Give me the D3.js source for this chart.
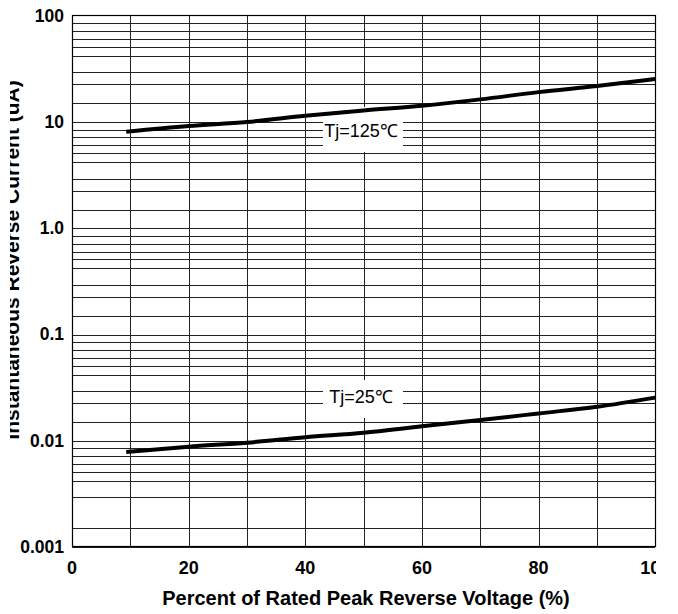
<!DOCTYPE html>
<html>
<head>
<meta charset="utf-8">
<script src="https://cdn.jsdelivr.net/npm/d3@7"></script>
<style>
  body { margin: 0; background: #fff; }
  text { font-family: "Liberation Sans", Arial, sans-serif; }
</style>
</head>
<body>
<div id="chart"></div>
<script>
// values
var voltage = [9.3, 20, 30, 40, 50, 60, 70, 80, 90, 100];
var current125 = [8.14, 9.21, 10.04, 11.5, 12.9, 14.3, 16.4, 19.2, 21.9, 25.5];
var current25 = [0.00785, 0.0088, 0.0096, 0.0108, 0.0119, 0.0137, 0.0157, 0.0181, 0.0209, 0.0255];
var curveLabels = ["Tj=125\u2103", "Tj=25\u2103"];

var xTicks = [0, 20, 40, 60, 80, 100];
var xGrid = [0, 10, 20, 30, 40, 50, 60, 70, 80, 90, 100];
var yTicks = [100, 10, 1, 0.1, 0.01, 0.001];
var yTickLabels = ["100", "10", "1.0", "0.1", "0.01", "0.001"];
var decades = [10, 1, 0.1, 0.01, 0.001];
var gridSteps = [8.5, 7.2, 6.05, 5.1, 4.2, 2.95, 2.27, 1.5];
var missingGrid = [0.00227];

var W = 678, H = 614;
var plotL = 72, plotR = 655.3, plotT = 16, plotB = 547;

var svg = d3.select("#chart")
  .append("svg")
    .attr("width", W)
    .attr("height", H);

var x = d3.scaleLinear()
  .domain([0, 100])
  .range([plotL, plotR]);

var y = d3.scaleLog()
  .domain([0.001, 100])
  .range([plotB, plotT]);

// minor grid values (odd spacing copied from the chart)
var gridValues = [];
decades.forEach(function(d) {
  gridValues.push(d);
  gridSteps.forEach(function(s) {
    var v = +(d * s).toPrecision(4);
    if (missingGrid.indexOf(v) < 0) gridValues.push(v);
  });
});

var grid = svg.append("g")
  .attr("stroke", "#222")
  .attr("stroke-width", 1)
  .attr("shape-rendering", "crispEdges");

grid.selectAll(".hg")
  .data(gridValues)
  .enter().append("line")
    .attr("x1", plotL)
    .attr("x2", plotR)
    .attr("y1", function(d) { return Math.round(y(d)) + 0.5 })
    .attr("y2", function(d) { return Math.round(y(d)) + 0.5 });

grid.selectAll(".vg")
  .data(xGrid)
  .enter().append("line")
    .attr("x1", function(d) { return Math.round(x(d)) + 0.5 })
    .attr("x2", function(d) { return Math.round(x(d)) + 0.5 })
    .attr("y1", plotT)
    .attr("y2", plotB);

svg.append("rect")
  .attr("x", plotL + 0.5)
  .attr("y", plotT - 0.5)
  .attr("width", Math.round(plotR - plotL))
  .attr("height", Math.round(plotB - plotT))
  .attr("fill", "none")
  .attr("stroke", "#000")
  .attr("stroke-width", 1.2);

// curve labels on white boxes
var boxes = [
  {label: curveLabels[0], cx: 363, y0: 107, y1: 152, base: 137},
  {label: curveLabels[1], cx: 363, y0: 380, y1: 418, base: 403}
];
boxes.forEach(function(b) {
  svg.append("rect")
    .attr("x", b.cx - 40)
    .attr("y", b.y0)
    .attr("width", 80)
    .attr("height", b.y1 - b.y0)
    .attr("fill", "#fff");
  svg.append("text")
    .attr("x", b.cx - 2)
    .attr("y", b.base)
    .attr("text-anchor", "middle")
    .attr("font-size", "18px")
    .attr("fill", "#000")
    .text(b.label);
});

var line = d3.line()
  .x(function(d) { return x(d[0]) })
  .y(function(d) { return y(d[1]) })
  .curve(d3.curveMonotoneX);

[current125, current25].forEach(function(series) {
  svg.append("path")
    .datum(d3.zip(voltage, series))
    .attr("fill", "none")
    .attr("stroke", "#000")
    .attr("stroke-width", 4)
    .attr("d", line);
});

// axes labels
svg.append("clipPath")
  .attr("id", "xclip")
  .append("rect")
    .attr("x", 0).attr("y", 0)
    .attr("width", 656).attr("height", H);

// the y title is trimmed on its left side in the source
svg.append("clipPath")
  .attr("id", "yclip")
  .append("rect")
    .attr("x", 10).attr("y", 0)
    .attr("width", 40).attr("height", H);

svg.append("g")
  .attr("clip-path", "url(#xclip)")
  .selectAll("text")
  .data(xTicks)
  .enter().append("text")
    .attr("x", function(d) { return x(d) })
    .attr("y", 574)
    .attr("text-anchor", "middle")
    .attr("font-size", "18px")
    .attr("font-weight", "bold")
    .text(function(d) { return d });

svg.append("g")
  .selectAll("text")
  .data(yTicks)
  .enter().append("text")
    .attr("x", 64)
    .attr("y", function(d) { return y(d) })
    .attr("dy", "0.33em")
    .attr("text-anchor", "end")
    .attr("font-size", "17.5px")
    .attr("font-weight", "bold")
    .text(function(d, i) { return yTickLabels[i] });

svg.append("text")
  .attr("x", 366)
  .attr("y", 605)
  .attr("text-anchor", "middle")
  .attr("font-size", "20px")
  .attr("font-weight", "bold")
  .text("Percent of Rated Peak Reverse Voltage (%)");

svg.append("g")
  .attr("clip-path", "url(#yclip)")
  .append("text")
    .attr("transform", "translate(19,260) rotate(-90)")
    .attr("text-anchor", "middle")
    .attr("font-size", "21px")
    .attr("font-weight", "bold")
    .text("Instantaneous Reverse Current (uA)");
</script>
</body>
</html>
